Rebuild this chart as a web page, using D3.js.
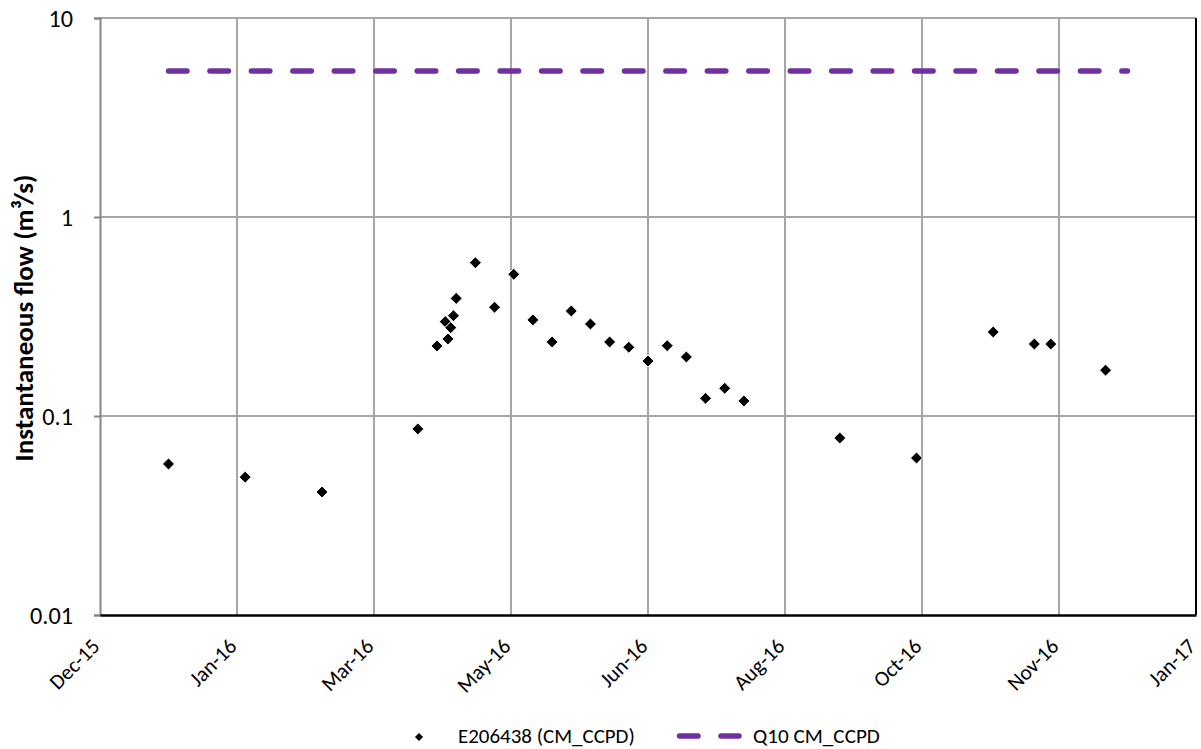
<!DOCTYPE html>
<html><head><meta charset="utf-8">
<script src="https://cdn.jsdelivr.net/npm/d3@7"></script>
<style>body{margin:0;background:#fff;} svg{display:block;} text{font-family:Carlito, Lato, sans-serif;}</style>
</head><body><svg id="c" width="1201" height="749"></svg>
<script>
// ---- data ----
const sampleDates = ["2016-01-04","2016-02-01","2016-02-29","2016-04-04","2016-04-11","2016-04-14","2016-04-15","2016-04-16","2016-04-17","2016-04-18",
  "2016-04-25","2016-05-02","2016-05-09","2016-05-16","2016-05-23","2016-05-30","2016-06-06","2016-06-13","2016-06-20","2016-06-27",
  "2016-07-04","2016-07-11","2016-07-18","2016-07-25","2016-08-01","2016-09-05","2016-10-03","2016-10-31","2016-11-15","2016-11-21","2016-12-11"];
const sampleFlow = [0.0574,0.0493,0.0415,0.0861,0.225,0.298,0.244,0.278,0.319,0.390,
  0.589,0.352,0.515,0.304,0.2355,0.337,0.290,0.2355,0.2215,0.189,
  0.2257,0.198,0.1227,0.1378,0.119,0.0775,0.0615,0.2644,0.230,0.230,0.170];
const q10Dates = ["2016-01-04","2016-12-19"];
const q10Flow = [5.42,5.42];
const xTickDates = ["2015-12-10","2016-01-29","2016-03-19","2016-05-08","2016-06-27","2016-08-16","2016-10-05","2016-11-24","2017-01-13"];
const yTicks = [0.01,0.1,1,10];
const yTickLabels = ["0.01","0.1","1","10"];
const seriesNames = ["E206438 (CM_CCPD)","Q10 CM_CCPD"];
const yTitle = "Instantaneous flow (m\u00B3/s)";

// ---- chart ----
const parse = d3.utcParse("%Y-%m-%d");
const svg = d3.select("#c");
const L=100, R=1196, T=18, B=615;
const x = d3.scaleUtc().domain([parse(xTickDates[0]), parse(xTickDates[xTickDates.length-1])]).range([L,R]);
const y = d3.scaleLog().domain([0.01,10]).range([B,T]);
const fmt = d3.utcFormat("%b-%y");

// fit a selection's font size so a reference text reaches a target width
function fit(sel, refNode, target){
  const base = parseFloat(d3.select(refNode).attr("font-size"));
  const w = refNode.getComputedTextLength();
  sel.attr("font-size", base*target/w);
}

// gridlines
svg.append("g").selectAll("line").data(xTickDates.slice(1,-1)).join("line")
  .attr("x1",d=>x(parse(d))).attr("x2",d=>x(parse(d))).attr("y1",T).attr("y2",B)
  .attr("stroke","#a6a6a6").attr("stroke-width",2);
svg.append("g").selectAll("line").data(yTicks.slice(1)).join("line")
  .attr("x1",L).attr("x2",R).attr("y1",d=>y(d)).attr("y2",d=>y(d))
  .attr("stroke","#a6a6a6").attr("stroke-width",2);

// y axis
const ya = d3.axisLeft(y).tickValues(yTicks).tickFormat((d,i)=>yTickLabels[i]).tickSize(6).tickPadding(21);
const yg = svg.append("g").attr("transform",`translate(${L},0)`).call(ya);
yg.select(".domain").attr("stroke","#868686").attr("stroke-width",2);
yg.selectAll(".tick line").attr("stroke","#868686").attr("stroke-width",2);
const yt = yg.selectAll("text").attr("font-size",20).attr("fill","#000").attr("dy","0.36em");
fit(yt, yt.filter((d,i)=>i===0).node(), 43);

// right border
svg.append("line").attr("x1",R).attr("x2",R).attr("y1",T).attr("y2",B).attr("stroke","#000").attr("stroke-width",2);

// x axis
const xa = d3.axisBottom(x).tickValues(xTickDates.map(parse)).tickFormat(fmt).tickSize(0);
const xg = svg.append("g").attr("transform",`translate(0,${B})`).call(xa);
xg.select(".domain").attr("stroke","#000").attr("stroke-width",2.5);
const xt = xg.selectAll("text").attr("font-size",18).attr("fill","#000")
  .attr("text-anchor","end").attr("dy",0).attr("y",0);
fit(xt, xt.filter((d,i)=>i===0).node(), 61);
const xfs = parseFloat(xt.attr("font-size"));
xt.attr("transform",`translate(0.5,${22+0.5*xfs}) rotate(-45)`);

// y title
const ttl = svg.append("text").attr("transform","translate(33,318) rotate(-90)").attr("text-anchor","middle")
  .attr("font-size",20).attr("font-weight","bold").text(yTitle);
fit(ttl, ttl.node(), 287);

// Q10 line
const line = d3.line().x(d=>x(d[0])).y(d=>y(d[1]));
svg.append("path").datum(q10Dates.map((d,i)=>[parse(d),q10Flow[i]])).attr("d",line)
  .attr("fill","none").attr("stroke","#7030a0").attr("stroke-width",5.5)
  .attr("stroke-linecap","round").attr("stroke-dasharray","18.5 22.95");

// points
const diamond = d3.symbol().type(d3.symbolDiamond2).size(92);
svg.append("g").selectAll("path").data(sampleDates.map((d,i)=>[parse(d),sampleFlow[i]])).join("path")
  .attr("d",diamond).attr("transform",d=>`translate(${x(d[0])},${y(d[1])})`)
  .attr("fill","#000").attr("stroke","#fff").attr("stroke-width",1);

// legend
const lg = svg.append("g");
lg.append("path").attr("d",d3.symbol().type(d3.symbolDiamond2).size(42)).attr("transform","translate(419,737)").attr("fill","#000");
const l1 = lg.append("text").attr("x",458).attr("y",743).attr("font-size",20).text(seriesNames[0]);
fit(l1, l1.node(), 177);
lg.append("line").attr("x1",679.5).attr("x2",739).attr("y1",736).attr("y2",736)
  .attr("stroke","#7030a0").attr("stroke-width",5.5).attr("stroke-linecap","round").attr("stroke-dasharray","18.5 22.95");
const l2 = lg.append("text").attr("x",753).attr("y",743).attr("font-size",20).text(seriesNames[1]);
fit(l2, l2.node(), 127);
</script></body></html>
